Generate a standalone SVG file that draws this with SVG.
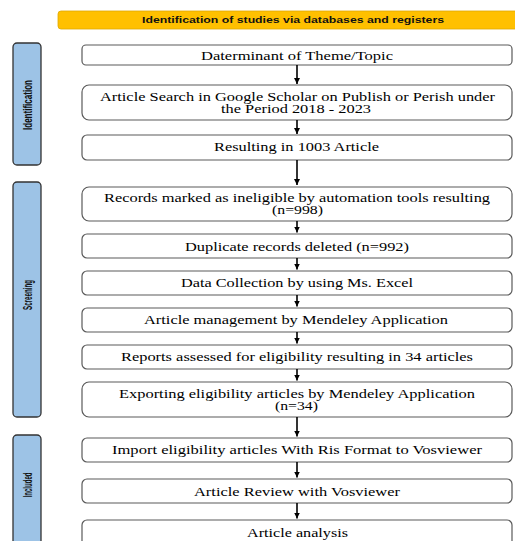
<svg xmlns="http://www.w3.org/2000/svg" width="515" height="541" viewBox="0 0 515 541">
<style>
.box{fill:#fff;stroke:#5a5a5a;stroke-width:1.2}
.side{fill:#9dc3e6;stroke:#333;stroke-width:1.3}
.t{font-family:"Liberation Serif","DejaVu Serif",serif;font-size:11.5px;fill:#000;text-anchor:middle}
.s{font-family:"Liberation Sans","DejaVu Sans",sans-serif;font-size:12.5px;font-weight:bold;fill:#111;text-anchor:middle}
.h{font-family:"Liberation Sans","DejaVu Sans",sans-serif;font-size:8.5px;font-weight:bold;fill:#111;text-anchor:middle}
.c{stroke:#000;stroke-width:1.6;fill:none}
</style>
<defs>
<marker id="ah" viewBox="0 0 6 6" refX="6" refY="3" markerWidth="6" markerHeight="6" markerUnits="userSpaceOnUse" orient="auto">
<path d="M0,0 L6,3 L0,6 z" fill="#000"/>
</marker>
</defs>
<rect width="515" height="541" fill="#fff"/>
<g id="header">
<rect x="58" y="11" width="462" height="18" rx="3" fill="#ffc000" stroke="#e0a800" stroke-width="0.8"/>
<text class="h" x="293" y="23" textLength="302" lengthAdjust="spacingAndGlyphs">Identification of studies via databases and registers</text>
</g>
<g id="phase-identification">
<rect class="side" x="13" y="43" width="28" height="122" rx="4"/>
<text class="s" transform="translate(31.5,105) rotate(-90)" textLength="50" lengthAdjust="spacingAndGlyphs">Identification</text>
</g>
<g id="phase-screening">
<rect class="side" x="13" y="182" width="28" height="235" rx="4"/>
<text class="s" transform="translate(31.5,295) rotate(-90)" textLength="30" lengthAdjust="spacingAndGlyphs">Screening</text>
</g>
<g id="phase-included">
<rect class="side" x="13" y="435" width="28" height="120" rx="4"/>
<text class="s" transform="translate(31.5,485) rotate(-90)" textLength="25" lengthAdjust="spacingAndGlyphs">Included</text>
</g>
<g id="n1">
<rect class="box" x="82" y="45" width="430" height="20" rx="4"/>
<text class="t" x="297" y="59.5" textLength="192" lengthAdjust="spacingAndGlyphs">Daterminant of Theme/Topic</text>
</g>
<g id="n2">
<rect class="box" x="82" y="85" width="430" height="35" rx="7"/>
<text class="t" x="297.5" y="101" textLength="395" lengthAdjust="spacingAndGlyphs">Article Search in Google Scholar on Publish or Perish under</text>
<text class="t" x="296" y="113" textLength="150" lengthAdjust="spacingAndGlyphs">the Period 2018 - 2023</text>
</g>
<g id="n3">
<rect class="box" x="82" y="135" width="430" height="25" rx="5"/>
<text class="t" x="296.5" y="151" textLength="165" lengthAdjust="spacingAndGlyphs">Resulting in 1003 Article</text>
</g>
<g id="n4">
<rect class="box" x="82" y="187" width="430" height="34" rx="7"/>
<text class="t" x="297" y="202" textLength="386" lengthAdjust="spacingAndGlyphs">Records marked as ineligible by automation tools resulting</text>
<text class="t" x="297.5" y="213.5" textLength="51" lengthAdjust="spacingAndGlyphs">(n=998)</text>
</g>
<g id="n5">
<rect class="box" x="82" y="234" width="430" height="24" rx="5"/>
<text class="t" x="297" y="250.5" textLength="224" lengthAdjust="spacingAndGlyphs">Duplicate records deleted (n=992)</text>
</g>
<g id="n6">
<rect class="box" x="82" y="271" width="430" height="24" rx="5"/>
<text class="t" x="297" y="287" textLength="232" lengthAdjust="spacingAndGlyphs">Data Collection by using Ms. Excel</text>
</g>
<g id="n7">
<rect class="box" x="82" y="308" width="430" height="24" rx="5"/>
<text class="t" x="296" y="324" textLength="304" lengthAdjust="spacingAndGlyphs">Article management by Mendeley Application</text>
</g>
<g id="n8">
<rect class="box" x="82" y="345" width="430" height="24" rx="5"/>
<text class="t" x="297" y="361" textLength="352" lengthAdjust="spacingAndGlyphs">Reports assessed for eligibility resulting in 34 articles</text>
</g>
<g id="n9">
<rect class="box" x="82" y="382" width="430" height="35" rx="7"/>
<text class="t" x="297" y="397.5" textLength="356" lengthAdjust="spacingAndGlyphs">Exporting eligibility articles by Mendeley Application</text>
<text class="t" x="296.5" y="409.5" textLength="43" lengthAdjust="spacingAndGlyphs">(n=34)</text>
</g>
<g id="n10">
<rect class="box" x="82" y="438" width="430" height="24" rx="5"/>
<text class="t" x="297" y="454" textLength="370" lengthAdjust="spacingAndGlyphs">Import eligibility articles With Ris Format to Vosviewer</text>
</g>
<g id="n11">
<rect class="box" x="82" y="479" width="430" height="24" rx="5"/>
<text class="t" x="297" y="496" textLength="206" lengthAdjust="spacingAndGlyphs">Article Review with Vosviewer</text>
</g>
<g id="n12">
<rect class="box" x="82" y="520" width="430" height="30" rx="5"/>
<text class="t" x="297.5" y="537" textLength="101" lengthAdjust="spacingAndGlyphs">Article analysis</text>
</g>
<g id="connectors">
<line class="c" x1="297" y1="65" x2="297" y2="84" marker-end="url(#ah)"/>
<line class="c" x1="297" y1="120" x2="297" y2="134" marker-end="url(#ah)"/>
<line class="c" x1="297" y1="160" x2="297" y2="185" marker-end="url(#ah)"/>
<line class="c" x1="297" y1="221" x2="297" y2="232.5" marker-end="url(#ah)"/>
<line class="c" x1="297" y1="258" x2="297" y2="269.5" marker-end="url(#ah)"/>
<line class="c" x1="297" y1="295" x2="297" y2="306.5" marker-end="url(#ah)"/>
<line class="c" x1="297" y1="332" x2="297" y2="343.5" marker-end="url(#ah)"/>
<line class="c" x1="297" y1="369" x2="297" y2="380.5" marker-end="url(#ah)"/>
<line class="c" x1="297" y1="417" x2="297" y2="436.5" marker-end="url(#ah)"/>
<line class="c" x1="297" y1="462" x2="297" y2="477.5" marker-end="url(#ah)"/>
<line class="c" x1="297" y1="503" x2="297" y2="518.5" marker-end="url(#ah)"/>
</g>
</svg>
